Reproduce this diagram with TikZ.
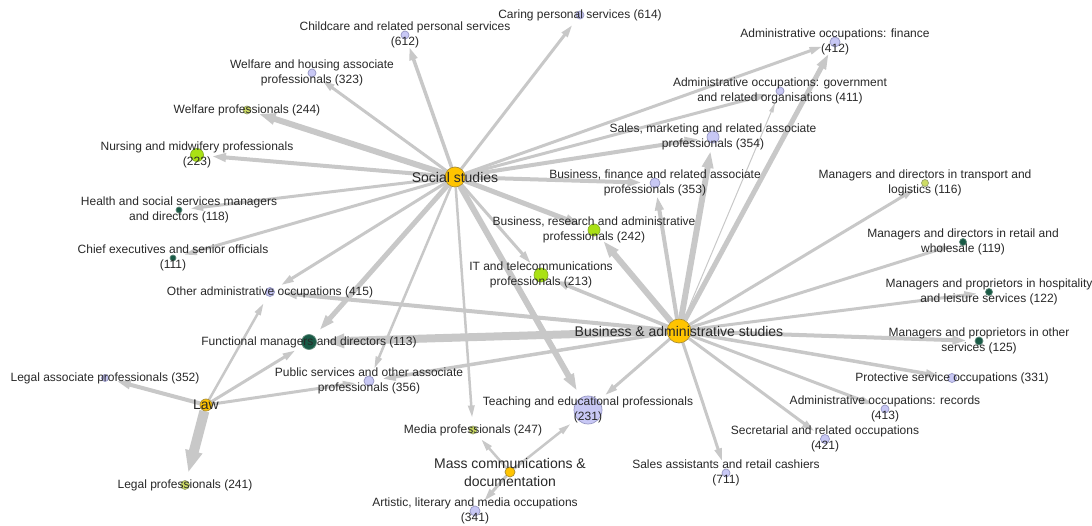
\documentclass[tikz,border=0pt]{standalone}
\usepackage{fontspec}
\setmainfont{Liberation Sans}
\usetikzlibrary{arrows.meta}

\definecolor{edgegray}{RGB}{200,200,200}
\definecolor{textc}{RGB}{40,40,40}
\definecolor{goldfill}{RGB}{255,196,0}
\definecolor{golddraw}{RGB}{170,140,50}
\definecolor{lavfill}{RGB}{200,200,245}
\definecolor{lavdraw}{RGB}{150,150,195}
\definecolor{limefill}{RGB}{170,225,20}
\definecolor{limedraw}{RGB}{135,175,40}
\definecolor{ygfill}{RGB}{205,220,100}
\definecolor{ygdraw}{RGB}{150,160,110}
\definecolor{dgfill}{RGB}{25,90,70}
\definecolor{dgdraw}{RGB}{100,140,125}

\pgfdeclarelayer{edgelayer}
\pgfdeclarelayer{labellayer}
\pgfsetlayers{edgelayer,main,labellayer}

\tikzset{
  vtx/.style={circle, inner sep=0pt, minimum size=#1, line width=0.7pt},
  field/.style={vtx=#1, fill=goldfill, draw=golddraw},
  lav/.style={vtx=#1, fill=lavfill, draw=lavdraw},
  lime/.style={vtx=#1, fill=limefill, draw=limedraw},
  yg/.style={vtx=#1, fill=ygfill, draw=ygdraw},
  dg/.style={vtx=#1, fill=dgfill, draw=dgdraw},
  lbl/.style={align=center, text=textc, inner sep=0pt,
    font=\fontsize{12}{15}\selectfont},
  biglbl/.style={lbl, font=\fontsize{14}{18}\selectfont},
  link/.style={draw=edgegray, shorten >=8pt,
    -{Triangle[length=9pt 1.3, width=3pt 1.3]}},
}

% vertex with its label centred on it: name, x, y, vertex style, label style, text
\newcommand\vertex[6]{%
  \node[#4] (#1) at (#2,#3) {};
  \begin{pgfonlayer}{labellayer}
    \node[#5] at (#2,#3) {#6};
  \end{pgfonlayer}}
% weighted directed link: source, target, width
\newcommand\link[3]{\draw[link, line width=#3pt] (#1) -- (#2);}

\begin{document}
\begin{tikzpicture}[x=1pt, y=-1pt]
\useasboundingbox (0,0) rectangle (1092,526);

% fields of study
\vertex{ss}{455}{177}{field=20pt}{biglbl}{Social studies}
\vertex{ba}{679}{331}{field=24pt}{biglbl}{Business \& administrative studies}
\vertex{law}{206}{405}{field=12pt}{biglbl}{Law}
\vertex{mc}{510}{472}{field=10pt}{biglbl}{Mass communications \&\\documentation}

% occupations
\vertex{childcare}{405}{35}{lav=8pt}{lbl}{Childcare and related personal services\\(612)}
\vertex{caring}{580}{15}{lav=8pt}{lbl}{Caring personal services (614)}
\vertex{welhouse}{312}{73}{lav=8pt}{lbl}{Welfare and housing associate\\professionals (323)}
\vertex{welprof}{247}{110}{yg=8pt}{lbl}{Welfare professionals (244)}
\vertex{nursing}{197}{155}{lime=13pt}{lbl}{Nursing and midwifery professionals\\(223)}
\vertex{health}{179}{210}{dg=6pt}{lbl}{Health and social services managers\\and directors (118)}
\vertex{chief}{173}{258}{dg=6pt}{lbl}{Chief executives and senior officials\\(111)}
\vertex{otheradmin}{270}{292}{lav=9pt}{lbl}{Other administrative occupations (415)}
\vertex{functional}{309}{342}{dg=15pt}{lbl}{Functional managers and directors (113)}
\vertex{legalassoc}{105}{378}{lav=7pt}{lbl}{Legal associate professionals (352)}
\vertex{public}{369}{381}{lav=10pt}{lbl}{Public services and other associate\\professionals (356)}
\vertex{legalprof}{185}{485}{yg=9pt}{lbl}{Legal professionals (241)}
\vertex{media}{473}{430}{yg=8pt}{lbl}{Media professionals (247)}
\vertex{teaching}{588}{410}{lav=28pt}{lbl}{Teaching and educational professionals\\(231)}
\vertex{artistic}{475}{511}{lav=10pt}{lbl}{Artistic, literary and media occupations\\(341)}
\vertex{busres}{594}{230}{lime=12pt}{lbl}{Business, research and administrative\\professionals (242)}
\vertex{it}{541}{275}{lime=14pt}{lbl}{IT and telecommunications\\professionals (213)}
\vertex{busfin}{655}{183}{lav=10pt}{lbl}{Business, finance and related associate\\professionals (353)}
\vertex{salesmkt}{713}{137}{lav=12pt}{lbl}{Sales, marketing and related associate\\professionals (354)}
\vertex{admgov}{780}{91}{lav=8pt}{lbl}{Administrative occupations: government\\and related organisations (411)}
\vertex{admfin}{835}{42}{lav=10pt}{lbl}{Administrative occupations: finance\\(412)}
\vertex{transport}{925}{183}{yg=7pt}{lbl}{Managers and directors in transport and\\logistics (116)}
\vertex{retail}{963}{242}{dg=7pt}{lbl}{Managers and directors in retail and\\wholesale (119)}
\vertex{hospitality}{989}{292}{dg=7pt}{lbl}{Managers and proprietors in hospitality\\and leisure services (122)}
\vertex{otherserv}{979}{341}{dg=8pt}{lbl}{Managers and proprietors in other\\services (125)}
\vertex{protective}{952}{378}{lav=9pt}{lbl}{Protective service occupations (331)}
\vertex{records}{885}{409}{lav=8pt}{lbl}{Administrative occupations: records\\(413)}
\vertex{secretarial}{825}{439}{lav=9pt}{lbl}{Secretarial and related occupations\\(421)}
\vertex{salesasst}{726}{473}{lav=8pt}{lbl}{Sales assistants and retail cashiers\\(711)}

\begin{pgfonlayer}{edgelayer}
% Social studies
\link{ss}{childcare}{3.5}
\link{ss}{caring}{3}
\link{ss}{welhouse}{3}
\link{ss}{welprof}{6}
\link{ss}{nursing}{4}
\link{ss}{health}{3}
\link{ss}{chief}{3}
\link{ss}{otheradmin}{3}
\link{ss}{functional}{5}
\link{ss}{public}{2.5}
\link{ss}{media}{2.5}
\link{ss}{teaching}{6}
\link{ss}{it}{3}
\link{ss}{busres}{5}
\link{ss}{busfin}{4}
\link{ss}{salesmkt}{4}
\link{ss}{admgov}{3}
\link{ss}{admfin}{3}
% Business & administrative studies
\link{ba}{admfin}{5}
\link{ba}{admgov}{1}
\link{ba}{salesmkt}{6}
\link{ba}{busfin}{4}
\link{ba}{busres}{6}
\link{ba}{it}{3.5}
\link{ba}{otheradmin}{4}
\link{ba}{functional}{8}
\link{ba}{public}{3.5}
\link{ba}{teaching}{3}
\link{ba}{salesasst}{3}
\link{ba}{secretarial}{3}
\link{ba}{records}{3}
\link{ba}{protective}{3.5}
\link{ba}{otherserv}{4}
\link{ba}{hospitality}{3}
\link{ba}{retail}{3}
\link{ba}{transport}{3}
% Law
\link{law}{legalprof}{10}
\link{law}{legalassoc}{4}
\link{law}{otheradmin}{2.5}
\link{law}{functional}{3}
\link{law}{public}{3}
% Mass communications & documentation
\link{mc}{media}{2.5}
\link{mc}{teaching}{2.5}
\link{mc}{artistic}{3}
\end{pgfonlayer}
\end{tikzpicture}
\end{document}
